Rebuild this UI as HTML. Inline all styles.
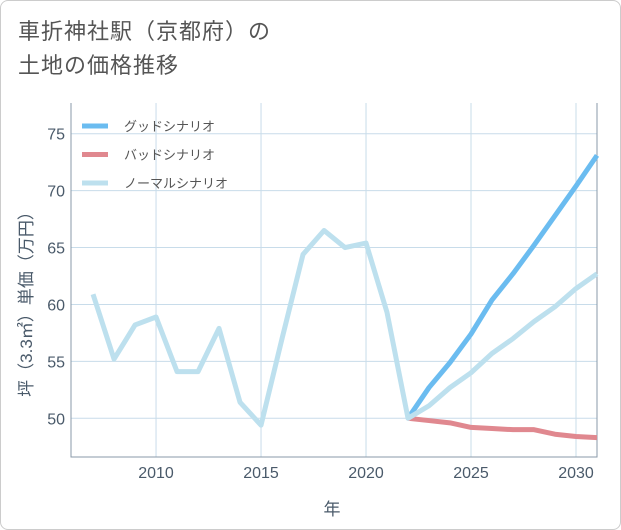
<!DOCTYPE html>
<html><head><meta charset="utf-8">
<style>
body{margin:0;background:#fff;}
#wrap{width:619px;height:528px;border:1px solid #ccc;border-radius:8px;position:relative;overflow:hidden;font-family:"Liberation Sans","Noto Sans CJK JP",sans-serif;}
#title{position:absolute;left:17px;top:14px;font-size:22px;line-height:34px;color:#555;letter-spacing:1px;}
svg text{font-family:"Liberation Sans","Noto Sans CJK JP",sans-serif;}
</style></head><body>
<div id="wrap">
<div id="title">車折神社駅（京都府）の<br>土地の価格推移</div>
<svg id="chart" width="621" height="530" style="position:absolute;left:-1px;top:-1px"></svg>
</div>
<script>
const years=[2007,2008,2009,2010,2011,2012,2013,2014,2015,2016,2017,2018,2019,2020,2021,2022];
const history=[60.9,55.2,58.2,58.9,54.1,54.1,57.9,51.4,49.4,57,64.4,66.5,65.0,65.4,59.3,50];
const futureYears=[2022,2023,2024,2025,2026,2027,2028,2029,2030,2031];
const good=[50,52.7,54.9,57.4,60.4,62.7,65.2,67.8,70.4,73.1];
const normal=[50,51.1,52.7,54.0,55.7,57.0,58.5,59.8,61.4,62.7];
const bad=[50,49.8,49.6,49.2,49.1,49.0,49.0,48.6,48.4,48.3];
const xTicks=[2010,2015,2020,2025,2030];
const yTicks=[50,55,60,65,70,75];
const legendLabels=["グッドシナリオ","バッドシナリオ","ノーマルシナリオ"];

const L=71,R=597,T=103,B=457;
const x=v=>L+(v-2005.95)/(2031.0-2005.95)*(R-L);
const y=v=>B-(v-46.6)/(77.7-46.6)*(B-T);
const svg=document.getElementById('chart');
const NS='http://www.w3.org/2000/svg';
function mk(t,a){const e=document.createElementNS(NS,t);for(const k in a)e.setAttribute(k,a[k]);svg.appendChild(e);return e;}

let e;
xTicks.forEach(t=>{
 e=mk('line',{x1:x(t),x2:x(t),y1:T,y2:B,stroke:'#c8dcea','stroke-width':1});
 
 
 e=mk('text',{x:x(t),y:478,'text-anchor':'middle','font-size':16,fill:'#4a5a6a'});e.textContent=t;
 
 
});
yTicks.forEach(t=>{
 e=mk('line',{x1:L,x2:R,y1:y(t),y2:y(t),stroke:'#c8dcea','stroke-width':1});
 
 
 e=mk('text',{x:65,y:y(t)+6,'text-anchor':'end','font-size':16,fill:'#4a5a6a'});e.textContent=t;
 
 
});
e=mk('path',{d:`M${L},${T}V${B}H${R}V${T}`,fill:'none',stroke:'#8a9aa8','stroke-width':1});



function line(xs,vs,color,name){
 const d=xs.map((v,i)=>(i?'L':'M')+x(v)+','+y(vs[i])).join('');
 const p=mk('path',{d,fill:'none',stroke:color,'stroke-width':5,'stroke-linejoin':'round'});
 
 
}
line(futureYears,bad,'#e0888f','bad-scenario-line');
line(futureYears,good,'#6bbcf0','good-scenario-line');
line(years.concat(futureYears.slice(1)),history.concat(normal.slice(1)),'#bde0ee','normal-scenario-line');

const colors=['#6bbcf0','#e0888f','#bde0ee'];
legendLabels.forEach((lab,i)=>{
 const yy=126+i*28.5;
 e=mk('line',{x1:82,x2:108,y1:yy,y2:yy,stroke:colors[i],'stroke-width':5});
 
 
 e=mk('text',{x:124,y:yy+5,'font-size':13,fill:'#555'});e.textContent=lab;
 
 
});
e=mk('text',{x:332,y:515,'text-anchor':'middle','font-size':17,fill:'#4a5a6a'});e.textContent='年';


e=mk('text',{x:0,y:0,'text-anchor':'middle','font-size':17,fill:'#4a5a6a',transform:'translate(32,300) rotate(-90)'});e.textContent='坪（3.3㎡）単価（万円）';


</script>
</body></html>
